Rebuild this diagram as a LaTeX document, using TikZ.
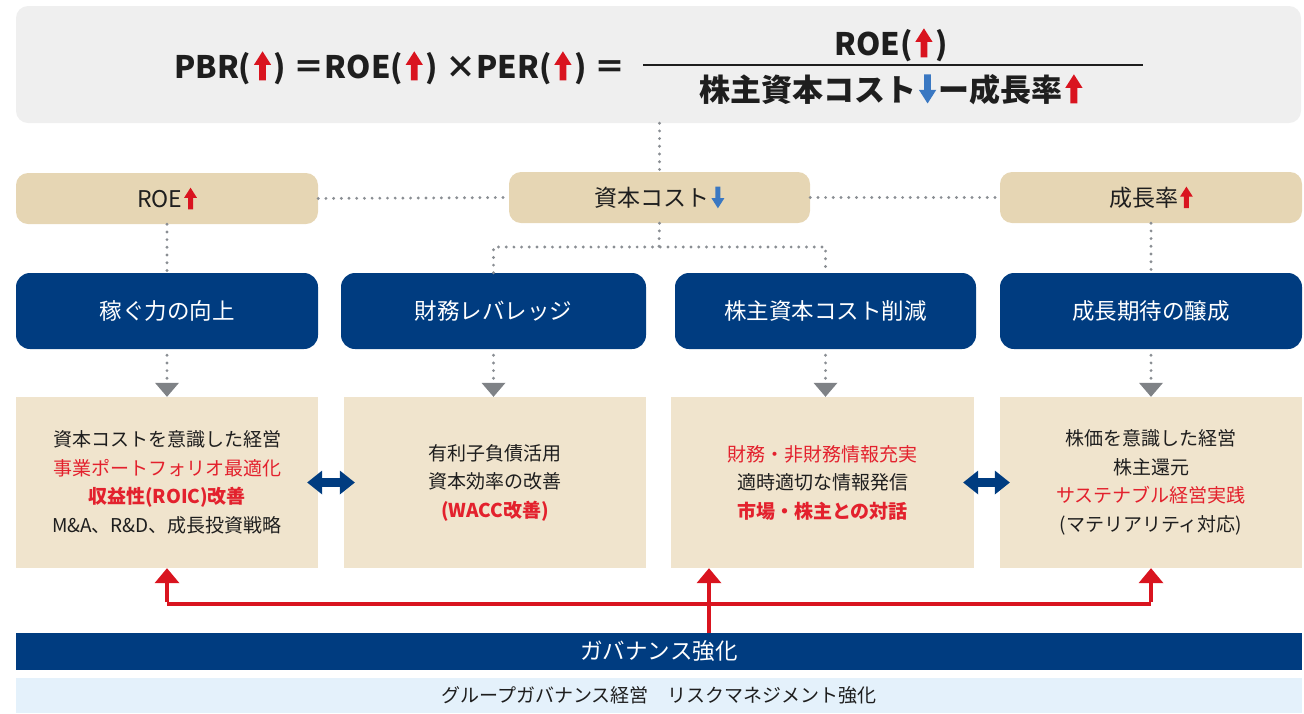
\documentclass[tikz,border=0pt]{standalone}
\usepackage{fontspec}
\setmainfont{Noto Sans CJK JP}
\usetikzlibrary{arrows.meta}
\definecolor{topgray}{HTML}{EFEFEF}
\definecolor{tanhead}{HTML}{E6D6B4}
\definecolor{tanbody}{HTML}{F0E4CD}
\definecolor{navy}{HTML}{003C80}
\definecolor{arrred}{HTML}{D9141F}
\definecolor{txtred}{HTML}{E3212D}
\definecolor{arrblue}{HTML}{3A78C2}
\definecolor{dotgray}{HTML}{8A8E93}
\definecolor{trigray}{HTML}{7F8286}
\definecolor{lightblue}{HTML}{E4F1FB}
\definecolor{txt}{HTML}{1E1E1E}
\newcommand\myUp{\hspace{0.08em}\tikz[baseline=0pt,x=1em,y=1em,sharp corners]\fill[arrred](-0.11,-0.08)--(-0.11,0.42)--(-0.28,0.42)--(0,0.86)--(0.28,0.42)--(0.11,0.42)--(0.11,-0.08)--cycle;\hspace{0.08em}}
\newcommand\myDown{\hspace{0.08em}\tikz[baseline=0pt,x=1em,y=1em,sharp corners]\fill[arrblue](-0.11,0.86)--(-0.11,0.36)--(-0.28,0.36)--(0,-0.08)--(0.28,0.36)--(0.11,0.36)--(0.11,0.86)--cycle;\hspace{0.08em}}
\newcommand\redB[1]{\textcolor{txtred}{\bfseries #1}}
\newcommand\redN[1]{\textcolor{txtred}{#1}}
\begin{document}
\begin{tikzpicture}[x=1pt,y=-1pt,
  headbox/.style={fill=tanhead, rounded corners=12pt, minimum height=51pt, inner sep=0pt, text=txt, font=\fontsize{23}{27}\selectfont},
  navbox/.style={fill=navy, rounded corners=14pt, minimum height=76pt, inner sep=0pt, text=white, font=\fontsize{22.5}{27}\selectfont},
  bodybox/.style={fill=tanbody, minimum height=171pt, inner sep=0pt, align=center, text=txt, font=\fontsize{19}{28.5}\selectfont},
  dots/.style={draw=dotgray, line width=3.2pt, line cap=round, dash pattern=on 0pt off 7.7pt},
  tri/.style={dots, shorten <=6pt, -{Triangle[width=24pt,length=14pt,fill=trigray,color=trigray,line width=0pt]}},
  redline/.style={draw=arrred, line width=4pt},
  redarrow/.style={redline, -{Triangle[width=25pt,length=15pt,line width=0pt]}},
  dblarrow/.style={draw=navy, line width=9pt, {Triangle[width=24pt,length=15pt,line width=0pt]}-{Triangle[width=24pt,length=15pt,line width=0pt]}},
  eqfont/.style={font=\fontsize{31}{36}\selectfont\bfseries, text=txt, inner sep=0pt}
]
\useasboundingbox (0,0) rectangle (1304,713);

% top formula box
\node[fill=topgray, rounded corners=12pt, minimum width=1285pt, minimum height=117pt, inner sep=0pt] (top) at (658.5,64.5) {};
\node[eqfont, anchor=base west] (eqL) at (174,78) {PBR(\myUp)\hspace{0.25em}＝ROE(\myUp)\hspace{0.25em}×PER(\myUp)\hspace{0.25em}＝};
\node[eqfont, anchor=base] (num) at (891,55) {ROE(\myUp)};
\node[eqfont, anchor=base] (den) at (891,101) {株主資本コスト\myDown ー成長率\myUp};
\coordinate (fl) at (643,65);
\coordinate (fr) at (1143,65);
\draw[txt, line width=1.2pt] (fl) -- (fr);

% header boxes
\node[headbox, minimum width=302pt] (roe) at (167,198.5) {ROE\myUp};
\node[headbox, minimum width=301pt] (cost) at (659.5,197.5) {資本コスト\myDown};
\node[headbox, minimum width=302pt] (grow) at (1151,197.5) {成長率\myUp};

% navy boxes
\node[navbox, minimum width=302pt] (n1) at (167,311) {稼ぐ力の向上};
\node[navbox, minimum width=305pt] (n2) at (493.5,311) {財務レバレッジ};
\node[navbox, minimum width=301pt] (n3) at (825.5,311) {株主資本コスト削減};
\node[navbox, minimum width=302pt] (n4) at (1151,311) {成長期待の醸成};

% body boxes
\node[bodybox, minimum width=302pt] (c1) at (167,482.5) {資本コストを意識した経営\\\redN{事業ポートフォリオ最適化}\\\redB{収益性(ROIC)改善}\\M\&A、R\&D、成長投資戦略};
\node[bodybox, minimum width=302pt] (c2) at (495,482.5) {有利子負債活用\\資本効率の改善\\\redB{(WACC改善)}};
\node[bodybox, minimum width=303pt] (c3) at (822.5,482.5) {\redN{財務・非財務情報充実}\\適時適切な情報発信\\\redB{市場・株主との対話}};
\node[bodybox, minimum width=302pt] (c4) at (1151,482.5) {株価を意識した経営\\株主還元\\\redN{サステナブル経営実践}\\(マテリアリティ対応)};

% bottom bars
\node[fill=navy, minimum width=1286pt, minimum height=37pt, inner sep=0pt, text=white, font=\fontsize{22.5}{27}\selectfont] (gov) at (659,651.5) {ガバナンス強化};
\node[fill=lightblue, minimum width=1286pt, minimum height=35pt, inner sep=0pt, text=txt, font=\fontsize{19}{23}\selectfont] (lb) at (659,695.5) {グループガバナンス経営　リスクマネジメント強化};

% dotted connectors
\draw[dots] (top.south -| cost.north) -- (cost.north);
\draw[dots] (roe.east) -- (cost.west);
\draw[dots] (cost.east) -- (grow.west);
\draw[dots] (roe.south) -- (n1.north);
\draw[dots] (grow.south) -- (n4.north);
\coordinate (j) at (659,247);
\draw[dots] (cost.south) -- (j);
\draw[dots] (n2.north) |- (j) -| (n3.north);

% triangles
\draw[tri] (n1.south) -- (c1.north -| n1.south);
\draw[tri] (n2.south) -- (c2.north -| n2.south);
\draw[tri] (n3.south) -- (c3.north -| n3.south);
\draw[tri] (n4.south) -- (c4.north -| n4.south);

% double arrows
\draw[dblarrow] ([xshift=-11pt]c1.east) -- ([xshift=11pt]c2.west);
\draw[dblarrow] ([xshift=-11pt]c3.east) -- ([xshift=10pt]c4.west);

% red arrows
\coordinate (g) at (709,633);
\coordinate (h) at (709,604);
\draw[redarrow] (g) -- (g |- c3.south);
\draw[redline] (c1.south |- h) -- (c4.south |- h);
\draw[redarrow] ([yshift=2pt]c1.south |- h) -- (c1.south);
\draw[redarrow] ([yshift=2pt]c4.south |- h) -- (c4.south);
\end{tikzpicture}
\end{document}
